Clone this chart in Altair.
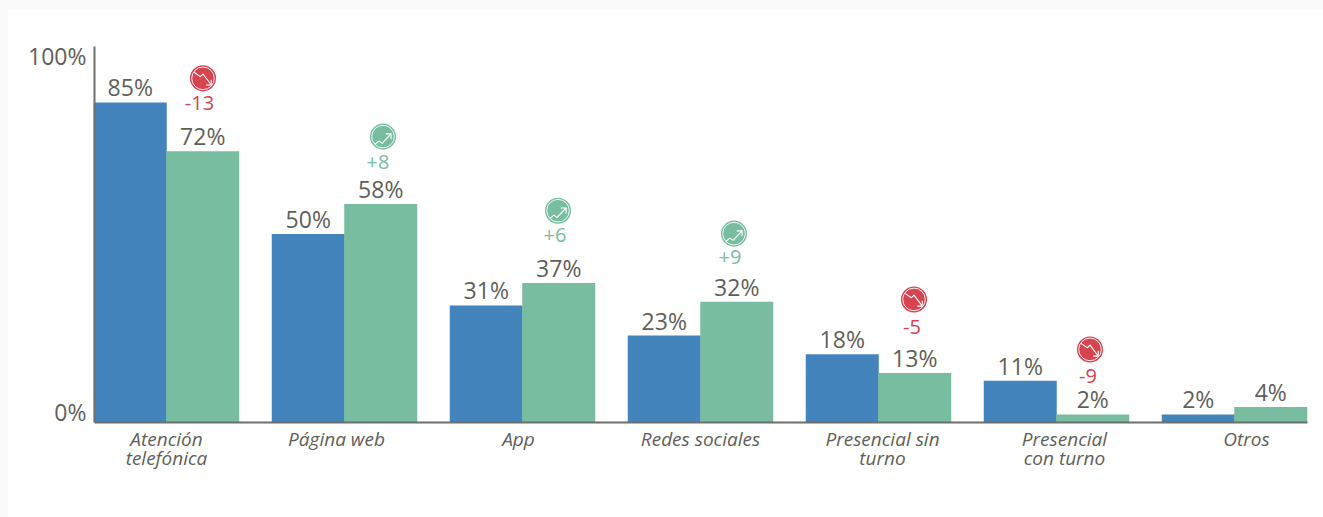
import altair as alt
import pandas as pd

FONT = "Open Sans"
BLUE = "#4484BC"
GREEN = "#78BDA0"
RED = "#D5444F"
INK = "#5F5F5A"

# Survey results per channel, two consecutive waves
categories = ["Atención\ntelefónica", "Página web", "App", "Redes sociales",
              "Presencial sin\nturno", "Presencial\ncon turno", "Otros"]
wave_a = [85, 50, 31, 23, 18, 11, 2]
wave_b = [72, 58, 37, 32, 13, 2, 4]

# Change badges: only the first six channels carry one
changes = [-13, 8, 6, 9, -5, -9]
changes_text = ["-13", "+8", "+6", "+9", "-5", "-9"]

# Height of each badge and its note on the percent axis
badge_level = [91.4, 75.9, 56.2, 50.1, 32.6, 19.3]
note_level = [84.7, 69.0, 49.6, 43.5, 25.1, 12.1]

# Horizontal pixel placement measured from the left edge of each group
badge_shift = [109, 111, 108, 106, 108, 106]
note_shift = [105.5, 106, 105, 102, 106, 104]

# Category labels sit slightly off their group centres
label_shift = [0, -8, -4, 0, 4, 8, 12]

bars = pd.DataFrame(
    [{"cat": c, "wave": "a", "value": v} for c, v in zip(categories, wave_a)]
    + [{"cat": c, "wave": "b", "value": v} for c, v in zip(categories, wave_b)]
)
bars["label"] = bars["value"].astype(str) + "%"

badges = pd.DataFrame({
    "cat": categories[:6],
    "change": changes,
    "text": changes_text,
    "badge_level": badge_level,
    "badge_shift": badge_shift,
    "note_level": note_level,
    "note_shift": note_shift,
})
badges["dir"] = ["up" if v > 0 else "down" for v in changes]

x_scale = alt.Scale(domain=categories, paddingInner=0.1854, paddingOuter=0)
y_scale = alt.Scale(domain=[0, 100], nice=False)
x_enc = alt.X("cat:N", scale=x_scale, sort=categories, title=None)
y_enc = alt.Y("value:Q", scale=y_scale, title=None)
offset_wave = alt.XOffset("wave:N", sort=["a", "b"])
badge_colors = alt.Color("dir:N", scale=alt.Scale(domain=["up", "down"], range=[GREEN, RED]), legend=None)

# White card behind the plot
card = alt.Chart(pd.DataFrame({"c": [0]})).mark_rect(color="white").encode(
    x=alt.value(-86), x2=alt.value(1229), y=alt.value(-36), y2=alt.value(471)
)

bar_layer = alt.Chart(bars).mark_bar(size=73).encode(
    x=x_enc.axis(
        labelFont=FONT, labelFontSize=19, labelFontStyle="italic", labelColor=INK,
        labelAngle=0, labelPadding=8, labelLineHeight=19, labelBaseline="top",
        labelExpr="split(datum.value, '\\n')", ticks=False,
        domainColor="#6E6E6A", domainWidth=2, labelLimit=300, zindex=1,
        labelOffset=alt.expr(f"{label_shift}[round(datum.index * 6)]"),
    ),
    xOffset=offset_wave,
    y=y_enc.axis(
        values=[0, 100], labelExpr="datum.value + '%'", grid=False, ticks=False,
        labelFont=FONT, labelFontSize=23, labelColor=INK, labelPadding=8,
        domainColor="#6E6E6A", domainWidth=2, zindex=1,
        labelOffset=alt.expr("datum.value == 100 ? 11 : -9"),
    ),
    color=alt.Color("wave:N", scale=alt.Scale(domain=["a", "b"], range=[BLUE, GREEN]), legend=None),
)

value_text = alt.Chart(bars).mark_text(
    font=FONT, fontSize=23, color=INK, baseline="alphabetic", dy=-6
).encode(x=x_enc, xOffset=offset_wave, y=y_enc, text="label:N")

badge_pos = {
    "x": x_enc,
    "xOffset": alt.XOffset("badge_shift:Q", scale=None),
    "y": alt.Y("badge_level:Q", scale=y_scale, title=None),
}

badge_disc = alt.Chart(badges).mark_point(
    shape="circle", filled=True, size=680, opacity=1
).encode(color=badge_colors, **badge_pos)

badge_ring = alt.Chart(badges).mark_point(
    shape="circle", filled=False, size=510, color="white", strokeWidth=0.9, opacity=1
).encode(**badge_pos)

# Trend arrows inside the badges
PATH_UP = "M-0.9,0.85L-0.45,0.5L-0.1,0.75L0.9,-0.3M0.3,-0.3L0.9,-0.3L0.9,0.3"
PATH_DOWN = "M-1,-0.67L-0.3,-0.19L0,-0.48L0.92,0.74M0.92,0.15L0.92,0.74L0.35,0.74"

arrow_up = alt.Chart(badges).transform_filter("datum.dir == 'up'").mark_point(
    shape=PATH_UP, filled=False, size=324, color="white", strokeWidth=1.1, opacity=1
).encode(**badge_pos)
arrow_down = alt.Chart(badges).transform_filter("datum.dir == 'down'").mark_point(
    shape=PATH_DOWN, filled=False, size=324, color="white", strokeWidth=1.1, opacity=1
).encode(**badge_pos)

note_text = alt.Chart(badges).mark_text(
    font=FONT, fontSize=20, baseline="middle"
).encode(
    x=x_enc,
    xOffset=alt.XOffset("note_shift:Q", scale=None),
    y=alt.Y("note_level:Q", scale=y_scale, title=None),
    text="text:N",
    color=badge_colors,
)

chart = (
    alt.layer(card, bar_layer, value_text, badge_disc, badge_ring, arrow_up, arrow_down, note_text)
    .resolve_scale(xOffset="independent", color="independent")
    .properties(
        width=1213, height=376, background="#FBFBFB",
        autosize=alt.AutoSizeParams(type="none"),
        padding={"left": 94, "top": 46, "right": 16, "bottom": 95},
    )
    .configure_view(stroke=None)
)

chart.save("out.html", embed_options={"renderer": "svg", "actions": False})
